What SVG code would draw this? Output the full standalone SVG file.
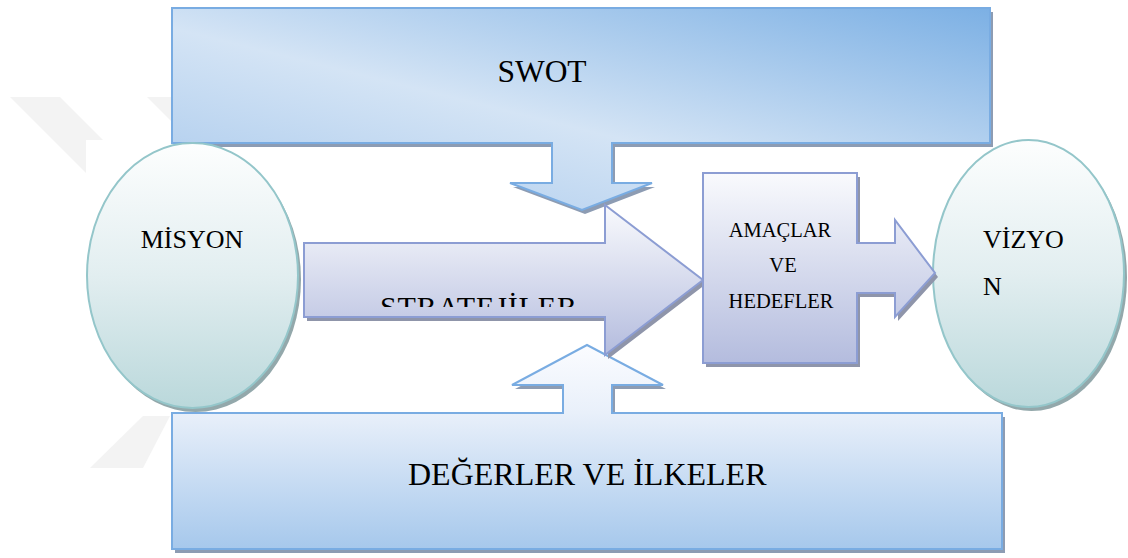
<svg xmlns="http://www.w3.org/2000/svg" xmlns:xlink="http://www.w3.org/1999/xlink" width="1128" height="558" viewBox="0 0 1128 558">
<style>
text{font-family:"Liberation Serif","Times New Roman",serif;fill:#000}
.wm{fill:#f3f3f3}
.blue{stroke:#79ace2;stroke-width:2}
.lav{stroke:#8c9dd3;stroke-width:2}
.ell{stroke:#94c6ca;stroke-width:2}
.shb{fill:#8d9cb3}
.shl{fill:#8f95aa}
.she{fill:#93a8ab}
</style>
<defs>
<linearGradient id="gSwot" x1="0" y1="1" x2="1" y2="0">
<stop offset="0" stop-color="#a7c8ec"/>
<stop offset="0.45" stop-color="#d4e4f5"/>
<stop offset="1" stop-color="#7cb0e4"/>
</linearGradient>
<linearGradient id="gDeg" x1="0" y1="0" x2="0" y2="1">
<stop offset="0" stop-color="#fbfcff"/>
<stop offset="0.33" stop-color="#e9f0fa"/>
<stop offset="1" stop-color="#a6c8ec"/>
</linearGradient>
<linearGradient id="gLav" x1="0" y1="0" x2="0" y2="1">
<stop offset="0" stop-color="#f9fafd"/>
<stop offset="1" stop-color="#b4bcde"/>
</linearGradient>
<linearGradient id="gEll" x1="0" y1="0" x2="0" y2="1">
<stop offset="0" stop-color="#fdfefe"/>
<stop offset="0.5" stop-color="#e2eef0"/>
<stop offset="1" stop-color="#bad8db"/>
</linearGradient>
<clipPath id="clipStr"><rect x="300" y="280" width="320" height="27"/></clipPath>
<path id="pSwot" d="M172,8 H990 V143 H612 V183 H652 L582,210 L510,183 H552 V143 H172 Z"/>
<path id="pDeg" d="M172,413 H563 V385 H512 L587,345 L663,385 H612 V413 H1002 V549 H172 Z"/>
<path id="pStr" d="M304,243 H605 V205 L703,280 L605,355 V317 H304 Z"/>
<path id="pAma" d="M703,173 H857 V243 H895 V220 L935,273 L895,317 V293 H857 V363 H703 Z"/>
<ellipse id="eMis" cx="192.5" cy="275.5" rx="105.5" ry="132.5"/>
<ellipse id="eViz" cx="1028.5" cy="273.5" rx="95.5" ry="133.5"/>
</defs>

<g id="watermark">
<polygon class="wm" points="10,97 60,97 103,140 86,140 86,173"/>
<polygon class="wm" points="147,97 172,97 172,122"/>
<polygon class="wm" points="143,416 170,416 143,468 90,468"/>
</g>

<g id="swot">
<use xlink:href="#pSwot" class="shb" transform="translate(3,4)"/>
<use xlink:href="#pSwot" class="blue" fill="url(#gSwot)"/>
<text x="542" y="82" font-size="31.5" text-anchor="middle">SWOT</text>
</g>

<g id="degerler">
<use xlink:href="#pDeg" class="shb" transform="translate(3,4)"/>
<use xlink:href="#pDeg" class="blue" fill="url(#gDeg)"/>
<text x="408" y="485" font-size="32">DEĞERLER VE İLKELER</text>
</g>

<g id="misyon">
<use xlink:href="#eMis" class="she" transform="translate(3,4)"/>
<use xlink:href="#eMis" class="ell" fill="url(#gEll)"/>
<text x="192" y="248" font-size="26" text-anchor="middle">MİSYON</text>
</g>

<g id="vizyon">
<use xlink:href="#eViz" class="she" transform="translate(3,4)"/>
<use xlink:href="#eViz" class="ell" fill="url(#gEll)"/>
<text x="983" y="248" font-size="26">VİZYO</text>
<text x="983" y="295" font-size="26">N</text>
</g>

<g id="stratejiler">
<use xlink:href="#pStr" class="shl" transform="translate(3,4)"/>
<use xlink:href="#pStr" class="lav" fill="url(#gLav)"/>
<text x="380" y="317" font-size="30" textLength="197" clip-path="url(#clipStr)">STRATEJİLER</text>
</g>

<g id="amaclar">
<use xlink:href="#pAma" class="shl" transform="translate(3,4)"/>
<use xlink:href="#pAma" class="lav" fill="url(#gLav)"/>
<text x="780" y="237" font-size="20.5" text-anchor="middle">AMAÇLAR</text>
<text x="783" y="272" font-size="20.5" text-anchor="middle">VE</text>
<text x="781" y="308" font-size="20.5" text-anchor="middle">HEDEFLER</text>
</g>

<g id="connectors"/>
</svg>
